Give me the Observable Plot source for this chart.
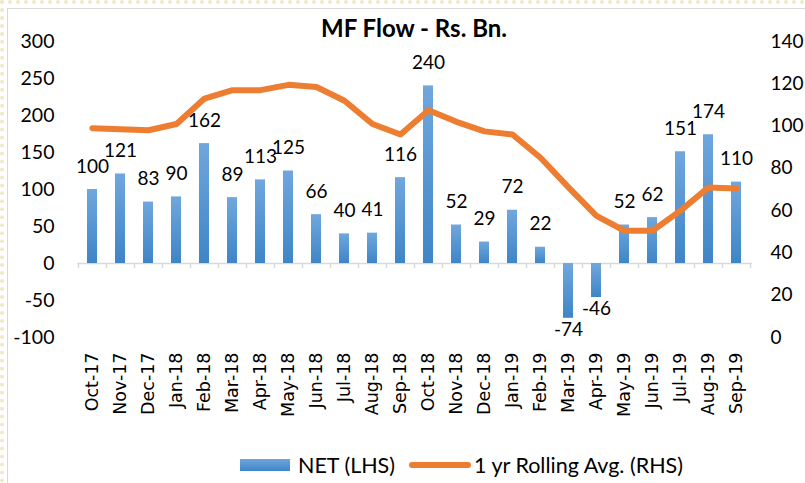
<!DOCTYPE html>
<html>
<head>
<meta charset="utf-8">
<script src="https://cdn.jsdelivr.net/npm/d3@7"></script>
<script src="https://cdn.jsdelivr.net/npm/@observablehq/plot@0.6"></script>
<style>
  html, body { margin: 0; padding: 0; background: #fff; }
  #wrap { position: relative; width: 805px; height: 483px; overflow: hidden; font-family: Lato, "Open Sans", sans-serif; }
  #outer { position: absolute; left: 0; top: 0; width: 805px; height: 483px; box-sizing: border-box;
           border-left: 4px dotted #efe9c6; border-top: 4px dotted #efe9c6; }
  #frame { position: absolute; left: 7px; top: 8px; width: 810px; height: 490px; border: 1px solid #d9d9d9; }
  #chart { position: absolute; left: 0; top: 0; }
  #title { position: absolute; left: 0; width: 828px; top: 13px; text-align: center; font-weight: 700; font-size: 24px; color: #000; }
  #legend { position: absolute; top: 451px; left: 240px; height: 28px; display: flex; align-items: center; font-size: 21.5px; color: #000; white-space: nowrap; }
  .sw-bar { width: 50px; height: 12px; background: linear-gradient(#6fa6dd, #3f86c8); margin-right: 8px; }
  .sw-line { width: 62px; height: 6px; border-radius: 3px; background: #ED7D31; margin-left: 14px; margin-right: 3px; }
</style>
</head>
<body>
<div id="wrap">
  <div id="outer"></div>
  <div id="frame"></div>
  <div id="chart"></div>
  <div id="title">MF Flow - Rs. Bn.</div>
  <div id="legend"><div class="sw-bar"></div><span>NET (LHS)</span><div class="sw-line"></div><span>1 yr Rolling Avg. (RHS)</span></div>
</div>
<script>
const months = ["Oct-17","Nov-17","Dec-17","Jan-18","Feb-18","Mar-18","Apr-18","May-18","Jun-18","Jul-18","Aug-18","Sep-18",
                "Oct-18","Nov-18","Dec-18","Jan-19","Feb-19","Mar-19","Apr-19","May-19","Jun-19","Jul-19","Aug-19","Sep-19"];
const netFlow = [100,121,83,90,162,89,113,125,66,40,41,116,240,52,29,72,22,-74,-46,52,62,151,174,110];
const rollingAvg = [99,98.5,98,101,113,117,117,119.5,118.5,112,101,96,107.5,102,97.5,96,85,71,57.5,50.5,50.5,60,71,70.5];
const leftTicks = [-100,-50,0,50,100,150,200,250,300];
const rightTicks = [0,20,40,60,80,100,120,140];

// map right-hand values onto the left scale domain [-100, 300] <-> [0, 140]
const toLeft = r => r * 400 / 140 - 100;
const toRight = l => String(Math.round((l + 100) * 140 / 400));

const data = months.map((m, i) => ({month: m, net: netFlow[i], avg: toLeft(rollingAvg[i])}));

const defs = () => {
  const d = d3.create("svg:defs");
  const g = d.append("linearGradient").attr("id", "barGrad").attr("x1", 0).attr("y1", 0).attr("x2", 0).attr("y2", 1);
  g.append("stop").attr("offset", "0%").attr("stop-color", "#70a7dd");
  g.append("stop").attr("offset", "100%").attr("stop-color", "#3e85c7");
  return d.node();
};

const chart = Plot.plot({
  width: 805,
  height: 440,
  marginTop: 41,
  marginBottom: 103,
  marginLeft: 77,
  marginRight: 53,
  style: {fontFamily: "Lato, 'Open Sans', sans-serif", fontSize: "19px", color: "#000", background: "transparent"},
  x: {type: "band", domain: months, paddingInner: 0.64, paddingOuter: 0.32},
  y: {domain: [-100, 300]},
  marks: [
    defs,
    Plot.ruleY([0], {stroke: "#d9d9d9", strokeWidth: 1.5}),
    Plot.ruleX(months, {x: d => d, y1: 0, y2: -7, dx: -14, stroke: "#d9d9d9", strokeWidth: 1.5}),
    Plot.ruleX(months.slice(-1), {x: d => d, y1: 0, y2: -7, dx: 14, stroke: "#d9d9d9", strokeWidth: 1.5}),
    Plot.barY(data, {x: "month", y: "net", fill: "url(#barGrad)"}),
    Plot.lineY(data, {x: "month", y: "avg", stroke: "#ED7D31", strokeWidth: 6, strokeLinecap: "round", strokeLinejoin: "round"}),
    Plot.text(data.filter(d => d.net >= 0), {x: "month", y: "net", text: d => String(d.net), lineAnchor: "bottom", dy: -17, fill: "#000", fontSize: 19}),
    Plot.text(data.filter(d => d.net < 0), {x: "month", y: "net", text: d => String(d.net), lineAnchor: "top", dy: 4, fill: "#000", fontSize: 19}),
    Plot.axisY(leftTicks, {anchor: "left", tickSize: 0, tickPadding: 23, label: null, tickFormat: d => String(d), fontSize: 19.5}),
    Plot.axisY(rightTicks.map(toLeft), {anchor: "right", tickSize: 0, tickPadding: 18, label: null, tickFormat: toRight, textAnchor: "start", fontSize: 19}),
    Plot.axisX({anchor: "bottom", tickSize: 0, tickPadding: 15, tickRotate: -90, label: null, fontFamily: "DejaVu Sans", fontSize: 17.5})
  ]
});
document.getElementById("chart").appendChild(chart);
</script>
</body>
</html>
